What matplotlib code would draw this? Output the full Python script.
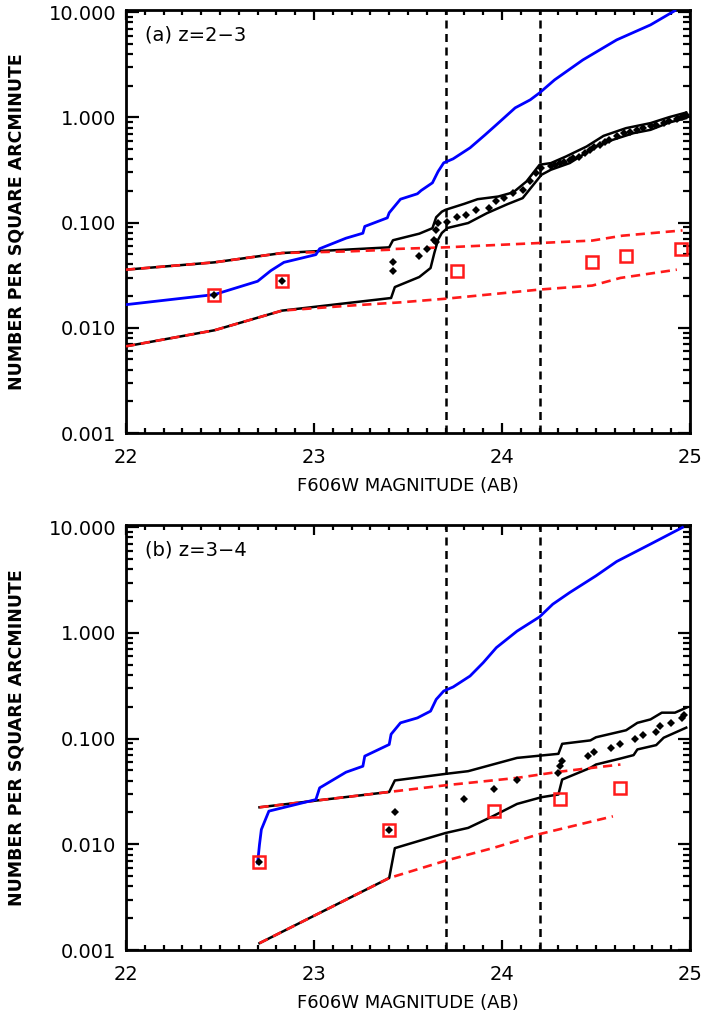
import matplotlib
matplotlib.use("Agg")
import matplotlib.pyplot as plt
from matplotlib.ticker import MultipleLocator, LogLocator, FixedLocator, NullFormatter

# ---- panel (a) z=2-3 ----
a_blue_mag = [22.00, 22.47, 22.70, 22.77, 22.84, 23.01, 23.03, 23.17, 23.26, 23.27, 23.39, 23.40,
              23.46, 23.55, 23.57, 23.63, 23.66, 23.69, 23.74, 23.83, 23.91, 23.97, 24.07, 24.15,
              24.20, 24.28, 24.43, 24.61, 24.79, 24.92]
a_blue_n = [0.0166, 0.0207, 0.0277, 0.0349, 0.0419, 0.0496, 0.0565, 0.0711, 0.0793, 0.0920, 0.111, 0.124,
            0.167, 0.188, 0.202, 0.239, 0.306, 0.370, 0.404, 0.514, 0.683, 0.851, 1.233, 1.469,
            1.713, 2.277, 3.52, 5.46, 7.58, 10.36]

a_hi_mag = [22.00, 22.47, 22.83, 23.40, 23.42, 23.56, 23.63, 23.65, 23.68, 23.70, 23.80, 23.87,
            23.98, 24.06, 24.13, 24.20, 24.26, 24.34, 24.45, 24.54, 24.66, 24.79, 24.89, 24.98]
a_hi_n = [0.0357, 0.0419, 0.0514, 0.0582, 0.0680, 0.0785, 0.0885, 0.1125, 0.127, 0.1325, 0.151, 0.167,
          0.177, 0.194, 0.246, 0.355, 0.368, 0.425, 0.529, 0.668, 0.791, 0.883, 1.007, 1.113]

a_lo_mag = [22.00, 22.47, 22.83, 23.41, 23.43, 23.56, 23.62, 23.64, 23.66, 23.68, 23.71, 23.82,
            23.92, 24.03, 24.11, 24.16, 24.21, 24.26, 24.36, 24.43, 24.50, 24.59, 24.70, 24.79,
            24.89, 24.98]
a_lo_n = [0.00667, 0.00947, 0.01457, 0.0192, 0.0244, 0.0304, 0.0370, 0.0514, 0.0688, 0.0797, 0.0889, 0.0991,
          0.123, 0.150, 0.171, 0.221, 0.285, 0.318, 0.368, 0.441, 0.529, 0.613, 0.709, 0.762,
          0.895, 0.985]

a_rhi_mag = [22.00, 22.47, 22.83, 23.19, 23.40, 23.42, 23.70, 24.20, 24.48, 24.64, 24.96]
a_rhi_n = [0.0357, 0.0419, 0.0514, 0.0533, 0.0552, 0.0561, 0.0582, 0.0640, 0.0675, 0.0751, 0.0843]
a_rlo_mag = [22.00, 22.47, 22.83, 23.19, 23.46, 23.70, 24.20, 24.48, 24.63, 24.93]
a_rlo_n = [0.00667, 0.00947, 0.01457, 0.01625, 0.01746, 0.0189, 0.0231, 0.0252, 0.0298, 0.0357]

a_sq_mag = [22.47, 22.83, 23.76, 24.48, 24.66, 24.95]
a_sq_n = [0.0207, 0.0277, 0.0349, 0.0419, 0.0485, 0.0561]

a_dia_mag = [22.47, 22.83, 23.42, 23.42, 23.56, 23.60, 23.64, 23.65, 23.65, 23.66, 23.71, 23.76,
             23.81, 23.86, 23.93, 23.97, 24.01, 24.06, 24.11, 24.15, 24.18, 24.21, 24.26, 24.31,
             24.36, 24.41, 24.47, 24.52, 24.57, 24.65, 24.72, 24.79, 24.86, 24.93, 24.98,
             24.28, 24.33, 24.38, 24.44, 24.49, 24.55, 24.61, 24.68, 24.75, 24.82, 24.89, 24.96]
a_dia_n = [0.0207, 0.0277, 0.0349, 0.0419, 0.0485, 0.0561, 0.0688, 0.0650, 0.0857, 0.099, 0.1004, 0.113,
           0.119, 0.131, 0.138, 0.159, 0.171, 0.191, 0.205, 0.246, 0.296, 0.330, 0.342, 0.368,
           0.396, 0.425, 0.492, 0.549, 0.613, 0.709, 0.762, 0.820, 0.883, 0.964, 1.059,
           0.350, 0.380, 0.410, 0.460, 0.520, 0.580, 0.660, 0.730, 0.790, 0.850, 0.920, 1.010]

# ---- panel (b) z=3-4 ----
b_blue_mag = [22.70, 22.71, 22.72, 22.76, 23.01, 23.03, 23.17, 23.26, 23.27, 23.40, 23.41, 23.46,
              23.55, 23.62, 23.65, 23.69, 23.74, 23.83, 23.90, 23.97, 24.08, 24.20, 24.27, 24.36,
              24.50, 24.61, 24.79, 24.96]
b_blue_n = [0.00665, 0.00993, 0.0138, 0.0206, 0.0265, 0.0342, 0.0481, 0.0548, 0.0683, 0.088, 0.110, 0.141,
            0.157, 0.182, 0.235, 0.282, 0.308, 0.391, 0.523, 0.726, 1.04, 1.42, 1.87, 2.41,
            3.47, 4.74, 6.93, 9.96]

b_hi_mag = [22.71, 23.40, 23.43, 23.70, 23.82, 24.08, 24.30, 24.32, 24.47, 24.50, 24.66, 24.72,
            24.79, 24.85, 24.92, 24.98]
b_hi_n = [0.0224, 0.0313, 0.0402, 0.0464, 0.0492, 0.0657, 0.0718, 0.0893, 0.0962, 0.103, 0.120, 0.141,
          0.152, 0.176, 0.176, 0.196]

b_lo_mag = [22.71, 23.40, 23.43, 23.70, 23.82, 23.95, 24.08, 24.21, 24.30, 24.32, 24.47, 24.50,
            24.63, 24.70, 24.72, 24.82, 24.86, 24.98]
b_lo_n = [0.00116, 0.0048, 0.0092, 0.0128, 0.0143, 0.0184, 0.0241, 0.0279, 0.0296, 0.0410, 0.0529, 0.0569,
          0.0648, 0.0698, 0.079, 0.0868, 0.102, 0.127]

b_rhi_mag = [22.71, 23.40, 23.70, 24.08, 24.30, 24.63]
b_rhi_n = [0.0224, 0.0313, 0.0362, 0.0425, 0.0485, 0.0569]
b_rlo_mag = [22.71, 23.40, 23.70, 23.95, 24.20, 24.59]
b_rlo_n = [0.00116, 0.0048, 0.0070, 0.0092, 0.0125, 0.0184]

b_sq_mag = [22.71, 23.40, 23.96, 24.31, 24.63]
b_sq_n = [0.0068, 0.0136, 0.0206, 0.0271, 0.0342]

b_dia_mag = [22.71, 23.40, 23.43, 23.80, 23.96, 24.08, 24.30, 24.31, 24.32, 24.46, 24.49, 24.58,
             24.63, 24.71, 24.75, 24.82, 24.84, 24.90, 24.96, 24.97]
b_dia_n = [0.0068, 0.0136, 0.0202, 0.0271, 0.0337, 0.041, 0.0474, 0.0548, 0.0612, 0.0683, 0.075, 0.0818,
           0.088, 0.0983, 0.108, 0.116, 0.131, 0.141, 0.157, 0.167]

vlines_mag = [23.7, 24.2]
xlim = (22, 25)
ylim = (0.001, 10.5)

plt.rcParams['font.family'] = ['DejaVu Sans']

fig = plt.figure(figsize=(7.04, 10.13), dpi=100)
ax_a = fig.add_axes([126 / 704, 1 - 433 / 1013, 564 / 704, 423 / 1013])
ax_b = fig.add_axes([126 / 704, 1 - 950 / 1013, 564 / 704, 425 / 1013])


def draw_panel(ax, label, blue, hi, lo, rhi, rlo, sq, dia):
    ax.set_yscale('log')
    for xv in vlines_mag:
        ax.axvline(xv, color='black', ls=(0, (3.2, 2.2)), lw=1.8, zorder=1)
    ax.plot(hi[0], hi[1], color='black', lw=1.8, zorder=2)
    ax.plot(lo[0], lo[1], color='black', lw=1.8, zorder=2)
    ax.plot(rhi[0], rhi[1], color='#ff1a1a', lw=1.9, ls=(0, (3.5, 2.2)), zorder=3)
    ax.plot(rlo[0], rlo[1], color='#ff1a1a', lw=1.9, ls=(0, (3.5, 2.2)), zorder=3)
    ax.plot(blue[0], blue[1], color='#0000ff', lw=2.0, zorder=4)
    ax.plot(dia[0], dia[1], ls='none', marker='D', ms=4.3, color='black', mew=0, zorder=5)
    ax.plot(sq[0], sq[1], ls='none', marker='s', ms=8.5, mfc='none', mec='#ff1a1a', mew=1.8, zorder=6)
    ax.set_xlim(*xlim)
    ax.set_ylim(*ylim)

    ax.xaxis.set_major_locator(FixedLocator([22, 23, 24, 25]))
    ax.xaxis.set_minor_locator(MultipleLocator(0.1))
    ax.yaxis.set_major_locator(FixedLocator([0.001, 0.01, 0.1, 1, 10]))
    ax.yaxis.set_minor_locator(LogLocator(base=10, subs=range(2, 10), numticks=20))
    ax.yaxis.set_minor_formatter(NullFormatter())
    ax.set_yticklabels(['0.001', '0.010', '0.100', '1.000', '10.000'])
    ax.set_xticklabels(['22', '23', '24', '25'])

    ax.tick_params(axis='both', which='both', direction='in', top=True, right=True,
                   width=1.6, labelsize=14)
    ax.tick_params(axis='x', which='major', length=7, pad=11)
    ax.tick_params(axis='x', which='minor', length=3.5)
    ax.tick_params(axis='y', which='major', length=9, pad=7)
    ax.tick_params(axis='y', which='minor', length=5)
    for sp in ax.spines.values():
        sp.set_linewidth(2.0)

    ax.set_xlabel('F606W MAGNITUDE (AB)', fontsize=13)
    ax.set_ylabel('NUMBER PER SQUARE ARCMINUTE', fontsize=12.5, fontweight='bold')
    ax.xaxis.set_label_coords(0.5, -0.104)
    ax.yaxis.set_label_coords(-0.178, 0.5)
    ax.text(0.034, 0.941, label, transform=ax.transAxes, fontsize=14,
            ha='left', va='center')


draw_panel(ax_a, '(a) z=2\u22123', (a_blue_mag, a_blue_n), (a_hi_mag, a_hi_n), (a_lo_mag, a_lo_n),
           (a_rhi_mag, a_rhi_n), (a_rlo_mag, a_rlo_n), (a_sq_mag, a_sq_n), (a_dia_mag, a_dia_n))
draw_panel(ax_b, '(b) z=3\u22124', (b_blue_mag, b_blue_n), (b_hi_mag, b_hi_n), (b_lo_mag, b_lo_n),
           (b_rhi_mag, b_rhi_n), (b_rlo_mag, b_rlo_n), (b_sq_mag, b_sq_n), (b_dia_mag, b_dia_n))

fig.savefig('out.png', dpi=100)
